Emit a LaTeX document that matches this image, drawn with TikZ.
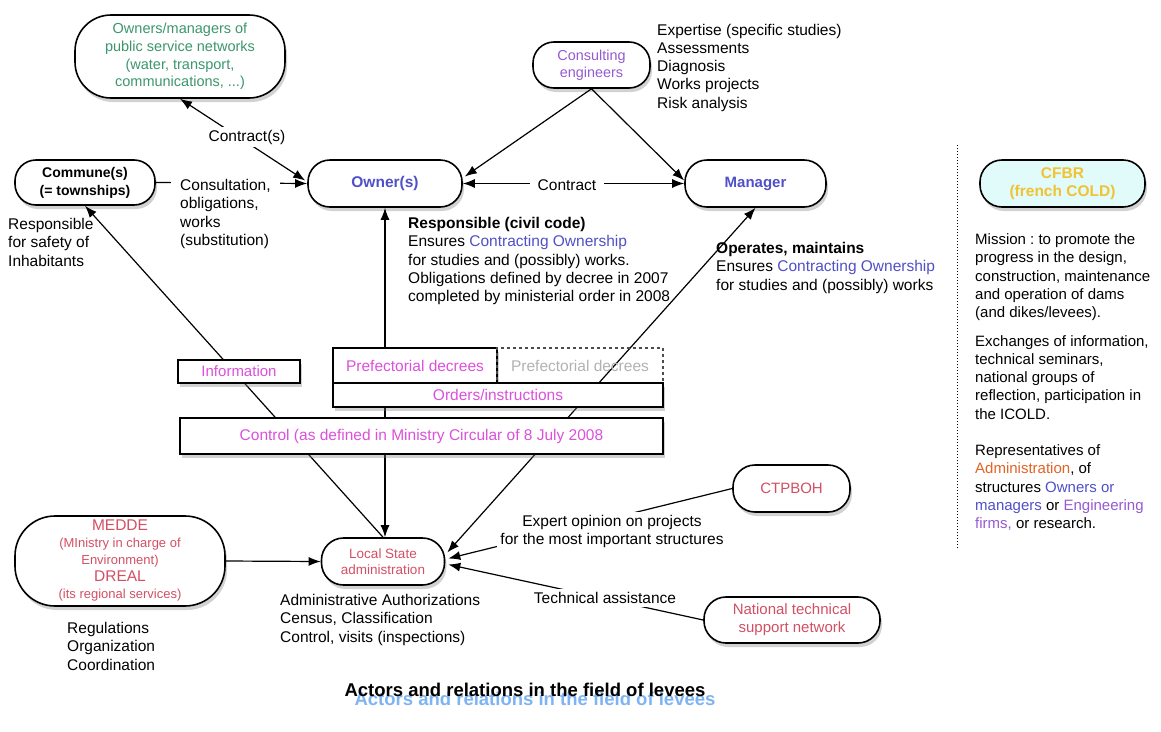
\documentclass[tikz,border=0pt]{standalone}
\usepackage{fontspec}
\setmainfont{Liberation Sans}
\usetikzlibrary{arrows.meta,shadows,calc}
\frenchspacing
\definecolor{tgreen}{RGB}{60,150,110}
\definecolor{tpurple}{RGB}{150,90,210}
\definecolor{tblue}{RGB}{80,80,200}
\definecolor{tmag}{RGB}{220,80,220}
\definecolor{tred}{RGB}{210,80,100}
\definecolor{tyellow}{RGB}{240,195,50}
\definecolor{tcyan}{RGB}{225,250,250}
\definecolor{torange}{RGB}{225,100,40}
\definecolor{ttitle}{RGB}{40,130,235}
\begin{document}
\begin{tikzpicture}[x=1pt,y=-1pt,
  shad/.style={drop shadow={shadow xshift=2pt,shadow yshift=-4pt,opacity=0.35}},
  actor/.style={draw,line width=1.6pt,fill=white,inner sep=0pt,align=center,shad},
  sq/.style={draw,line width=1.4pt,fill=white,inner sep=0pt,align=center,shad},
  txt/.style={inner sep=0pt,align=left,anchor=base west,font=\fontsize{15.5}{18.3}\selectfont},
  lbl/.style={fill=white,inner sep=3pt,align=center,font=\fontsize{15.5}{18}\selectfont},
  conn/.style={line width=1.2pt},
  arr/.style={conn,-{Latex[length=12pt,width=9pt]}},
  darr/.style={conn,{Latex[length=12pt,width=9pt]}-{Latex[length=12pt,width=9pt]}}
]
\useasboundingbox (0,0) rectangle (1161,731);
\fill[white] (0,0) rectangle (1161,731);

% ---- actors
\node[actor,minimum width=210pt,minimum height=83pt,rounded corners=36pt,text=tgreen,
  font=\fontsize{14.5}{17.6}\selectfont] (netw) at (180,56.5)
  {Owners/managers of\\public service networks\\(water, transport,\\communications, ...)};
\node[actor,minimum width=117pt,minimum height=46pt,rounded corners=21pt,text=tpurple,
  font=\fontsize{14.4}{17}\selectfont] (consult) at (591.5,65) {Consulting\\engineers};
\node[actor,minimum width=140pt,minimum height=45pt,rounded corners=21pt,
  font=\bfseries\fontsize{14}{18}\selectfont] (commune) at (85,182.5) {Commune(s)\\(= townships)};
\node[actor,minimum width=154pt,minimum height=47pt,rounded corners=22pt,text=tblue,
  font=\bfseries\fontsize{15.5}{18}\selectfont] (owner) at (385,183.5) {Owner(s)};
\node[actor,minimum width=141pt,minimum height=47pt,rounded corners=22pt,text=tblue,
  font=\bfseries\fontsize{15}{18}\selectfont] (manager) at (755.5,183.5) {Manager};
\node[actor,minimum width=165pt,minimum height=47pt,rounded corners=22pt,fill=tcyan,text=tyellow,
  font=\bfseries\fontsize{15.5}{18.5}\selectfont] (cfbr) at (1062.5,183.5) {CFBR\\(french COLD)};
\node[actor,minimum width=210pt,minimum height=90pt,rounded corners=40pt,text=tred,
  font=\fontsize{13}{17}\selectfont] (medde) at (120,561)
  {{\fontsize{15.5}{17}\selectfont MEDDE}\\(MInistry in charge of\\Environment)\\{\fontsize{15.5}{17}\selectfont DREAL}\\(its regional services)};
\node[actor,minimum width=123pt,minimum height=47pt,rounded corners=22pt,text=tred,
  font=\fontsize{13.5}{15.5}\selectfont] (local) at (383,561.5) {Local State\\administration};
\node[actor,minimum width=117pt,minimum height=47pt,rounded corners=22pt,text=tred,
  font=\fontsize{15}{18}\selectfont] (ctpboh) at (791.5,488.5) {CTPBOH};
\node[actor,minimum width=176pt,minimum height=46pt,rounded corners=22pt,text=tred,
  font=\fontsize{15}{18}\selectfont] (natl) at (792,620) {National technical\\support network};

% lines behind the rectangular boxes
\draw[arr] (local.north) -- (commune.south);
\draw[darr] (owner.south) -- (owner.south |- local.north);
\draw[darr] ($(local.east)+(2,-9)$) -- (manager.south);

% rectangular boxes
\node[sq,minimum width=122pt,minimum height=23pt,text=tmag,
  font=\fontsize{15}{18}\selectfont] (info) at (239,371.5) {Information};
\node[sq,minimum width=164pt,minimum height=35pt,text=tmag,
  font=\fontsize{15.5}{18}\selectfont] (pref) at (415,365.5) {Prefectorial decrees};
\node[draw=black!70,dashed,line width=1.2pt,minimum width=166pt,minimum height=35pt,inner sep=0pt,
  text=black!30,font=\fontsize{15.5}{18}\selectfont] (pref2) at (580,365.5) {Prefectorial decrees};
\node[sq,minimum width=330pt,minimum height=24pt,text=tmag,
  font=\fontsize{15.5}{18}\selectfont] (orders) at (498,395) {Orders/instructions};
\node[sq,minimum width=483pt,minimum height=36pt,text=tmag,
  font=\fontsize{15.5}{18}\selectfont] (control) at (421.5,436) {Control (as defined in Ministry Circular of 8 July 2008};

% other connectors
\draw[darr] (netw.south) -- ($(owner.west)+(-2,-3)$);
\node[lbl] (lcontr) at (247,137) {Contract(s)};
\draw[arr] (commune.east) -- (owner.west);
\node[txt,fill=white,inner xsep=9pt,inner ysep=3pt] (lconsult) at (171,245.4)
  {Consultation,\\obligations,\\works\\(substitution)};
\draw[arr] (consult.south) -- ($(owner.east)+(2,-7)$);
\draw[arr] (consult.south) -- ($(manager.west)+(0,-3)$);
\draw[darr] (owner.east) -- (manager.west);
\node[lbl,inner xsep=8pt] (lcontract) at (567,185) {Contract};
\draw[arr] (medde.east) -- (local.west);
\draw[arr] (ctpboh.west) -- ($(local.east)+(3,-3)$);
\node[lbl] (lexpert) at (612,531) {Expert opinion on projects\\for the most important structures};
\draw[arr] (natl.west) -- ($(local.east)+(3,3)$);
\node[lbl,inner xsep=6pt] (ltech) at (605,598) {Technical assistance};

% dotted separator
\draw[dotted,line width=1pt] (957,145) -- (957,548);

% free texts (anchored at the baseline of their last line)
\node[txt] (exp) at (657,108.2) {Expertise (specific studies)\\Assessments\\Diagnosis\\Works projects\\Risk analysis};
\node[txt] (respsafe) at (8,266.1) {Responsible\\for safety of\\Inhabitants};
\node[txt] (resp) at (408,301.7) {\textbf{Responsible (civil code)}\\Ensures \textcolor{tblue}{Contracting Ownership}\\for studies and (possibly) works.\\Obligations defined by decree in 2007\\completed by ministerial order in 2008};
\node[txt] (oper) at (716,290.1) {\textbf{Operates, maintains}\\Ensures \textcolor{tblue}{Contracting Ownership}\\for studies and (possibly) works};
\node[txt,font=\fontsize{15}{18.3}\selectfont] (mission) at (975,528.7)
  {Mission : to promote the\\progress in the design,\\construction, maintenance\\and operation of dams\\(and dikes/levees).\\[10pt]Exchanges of information,\\technical seminars,\\national groups of\\reflection, participation in\\the ICOLD.\\[18pt]Representatives of\\\textcolor{torange}{Administration}, of\\structures \textcolor{tblue}{Owners or}\\\textcolor{tblue}{managers} or \textcolor{tpurple}{Engineering}\\\textcolor{tpurple}{firms,} or research.};
\node[txt] (admin) at (280,642.1) {Administrative Authorizations\\Census, Classification\\Control, visits (inspections)};
\node[txt] (regul) at (67,670.1) {Regulations\\Organization\\Coordination};

% title (with its blue echo behind)
\node[text=ttitle,opacity=0.6,font=\bfseries\fontsize{18.5}{22}\selectfont] (titleb) at (535,699) {Actors and relations in the field of levees};
\node[font=\bfseries\fontsize{18.5}{22}\selectfont] (title) at (525,690) {Actors and relations in the field of levees};
\end{tikzpicture}
\end{document}
